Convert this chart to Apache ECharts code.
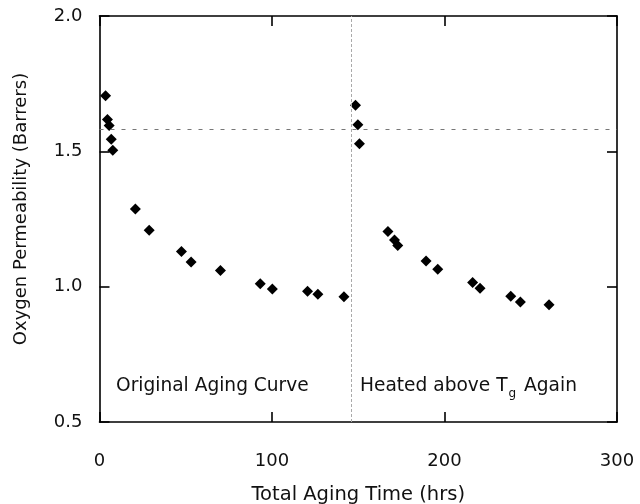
<!DOCTYPE html>
<html><head><meta charset="utf-8">
<script src="https://cdn.jsdelivr.net/npm/echarts@6/dist/echarts.min.js"></script>
<style>html,body{margin:0;padding:0;background:#fff}#c{width:640px;height:504px}</style>
</head><body><div id="c"></div>
<script>
var timeHrs = [3.5,4.6,5.6,6.8,7.7,20.8,28.8,47.5,53.1,70.1,93.2,100.2,120.6,126.6,141.7,
  148.4,149.8,150.7,167.2,171.0,172.9,189.3,196.1,216.3,220.6,238.4,244.0,260.6];
var permeability = [1.705,1.618,1.595,1.545,1.504,1.287,1.208,1.130,1.091,1.060,1.011,0.991,0.983,0.972,0.963,
  1.670,1.598,1.528,1.204,1.172,1.152,1.095,1.064,1.015,0.994,0.965,0.943,0.933];
var xTicks = [0,100,200,300];
var yTicks = [0.5,1.0,1.5,2.0];
var reheatTime = 146;
var initialLevel = 1.58;

var font = '"DejaVu Sans", Verdana, sans-serif';
var pts = timeHrs.map(function(t,i){return [t, permeability[i]];});
var chart = echarts.init(document.getElementById('c'), null, {renderer:'canvas'});
function axLine(){ return {show:true, onZero:false, lineStyle:{color:'#000', width:1.6}}; }
function axTick(){ return {show:true, inside:true, length:10, lineStyle:{color:'#000', width:1.6}}; }
chart.setOption({
  animation:false,
  grid:{left:99.5, right:23, top:16, bottom:82, containLabel:false, outerBoundsMode:'none'},
  xAxis:[{
    type:'value', position:'bottom', min:0, max:300, interval:100,
    axisLine:axLine(), axisTick:axTick(), splitLine:{show:false},
    axisLabel:{fontFamily:font, fontSize:18, color:'#111', margin:30,
      formatter:function(v){return xTicks.indexOf(v)>=0?String(v):'';}},
    name:'Total Aging Time (hrs)', nameLocation:'middle', nameGap:63,
    nameTextStyle:{fontFamily:font, fontSize:19.5, color:'#111'}
  },{
    type:'value', position:'top', min:0, max:300, interval:100,
    axisLine:axLine(), axisTick:axTick(), axisLabel:{show:false}, splitLine:{show:false}
  }],
  yAxis:[{
    type:'value', position:'left', min:0.5, max:2.0, interval:0.5,
    axisLine:axLine(), axisTick:axTick(), splitLine:{show:false},
    axisLabel:{fontFamily:font, fontSize:18, color:'#111', margin:17,
      formatter:function(v){return yTicks.indexOf(v)>=0?v.toFixed(1):'';}},
    name:'Oxygen Permeability (Barrers)', nameLocation:'middle', nameGap:69,
    nameTextStyle:{fontFamily:font, fontSize:18, color:'#111', padding:[0,0,0,20]}
  },{
    type:'value', position:'right', min:0.5, max:2.0, interval:0.5,
    axisLine:axLine(), axisTick:axTick(), axisLabel:{show:false}, splitLine:{show:false}
  }],
  series:[{
    type:'scatter', data:pts, symbol:'diamond', symbolSize:11,
    itemStyle:{color:'#000', opacity:1},
    markLine:{
      silent:true, symbol:'none', label:{show:false},
      data:[
        [{coord:[0, initialLevel], lineStyle:{color:'#777', width:1, type:[4,7]}},{coord:[300, initialLevel]}],
        [{coord:[reheatTime, 0.5], lineStyle:{color:'#aaa', width:1, type:[3,2]}},{coord:[reheatTime, 2.0]}]
      ]
    }
  }],
  graphic:[
    {type:'text', left:116, top:377, style:{text:'Original Aging Curve', font:'18.6px '+font, fill:'#111'}},
    {type:'text', left:360, top:377, style:{
      text:'Heated above T{s|g} Again', font:'18.6px '+font, fill:'#111',
      rich:{s:{fontSize:12, fontFamily:'DejaVu Sans', padding:[14,2,0,1], fill:'#111'}}
    }}
  ]
});
</script></body></html>
